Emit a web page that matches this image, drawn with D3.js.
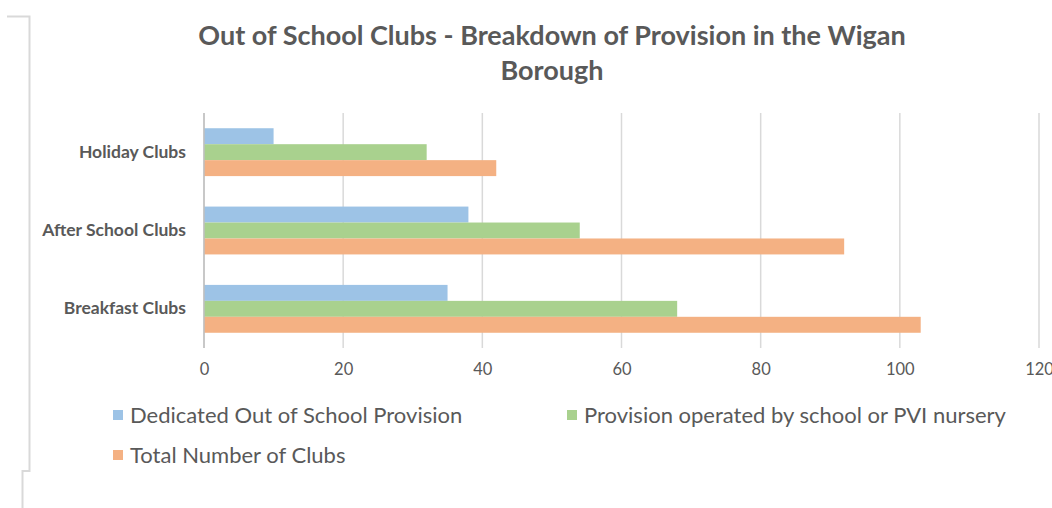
<!DOCTYPE html>
<html><head><meta charset="utf-8">
<script src="https://cdn.jsdelivr.net/npm/d3@7"></script>
<style>
html,body{margin:0;padding:0;background:#fff;}
svg{display:block;}
text{font-family:Lato,"Open Sans",sans-serif;fill:#595959;}
</style></head><body>
<script>
const categories = ["Holiday Clubs", "After School Clubs", "Breakfast Clubs"];
const seriesNames = ["Dedicated Out of School Provision", "Provision operated by school or PVI nursery", "Total Number of Clubs"];
const dedicated = [10, 38, 35];
const schoolOrPVI = [32, 54, 68];
const totalClubs = [42, 92, 103];
const tickValues = [0, 20, 40, 60, 80, 100, 120];
const colors = ["#9DC3E6", "#A9D18E", "#F4B183"];

const W = 1052, H = 508;
const svg = d3.select("body").append("svg").attr("width", W).attr("height", H);

// screenshot frame artifacts
svg.append("path").attr("d", "M7,16.5H29.5V471H22.5V508").attr("fill", "none").attr("stroke", "#d9d9d9").attr("stroke-width", 2);

const values = [dedicated, schoolOrPVI, totalClubs];
const x = d3.scaleLinear().domain([0, 120]).range([204, 1039]);
const y = d3.scaleBand().domain(categories).range([113, 348]).paddingInner(0.389).paddingOuter(0.1945);
const ys = d3.scaleBand().domain(d3.range(3)).range([0, y.bandwidth()]);

// title
const title = svg.append("text").attr("text-anchor", "middle").attr("font-weight", "bold").attr("font-size", 27);
title.append("tspan").attr("x", 552).attr("y", 45).text("Out of School Clubs - Breakdown of Provision in the Wigan");
title.append("tspan").attr("x", 552).attr("y", 80).text("Borough");

// gridlines
svg.append("g").selectAll("line").data(tickValues).join("line")
  .attr("x1", d => x(d)).attr("x2", d => x(d)).attr("y1", 113).attr("y2", 348)
  .attr("stroke", "#d9d9d9").attr("stroke-width", 1.5);

// bars
const rows = [];
categories.forEach((c, i) => values.forEach((s, j) => rows.push({c, j, v: s[i]})));
svg.append("g").selectAll("rect").data(rows).join("rect")
  .attr("x", x(0)).attr("y", d => y(d.c) + ys(d.j)).attr("height", ys.bandwidth())
  .attr("width", d => x(d.v) - x(0)).attr("fill", d => colors[d.j]);

// axis baseline
svg.append("line").attr("x1", x(0)).attr("x2", x(0)).attr("y1", 113).attr("y2", 348).attr("stroke", "#bfbfbf").attr("stroke-width", 1.5);

// x axis
const xAxis = d3.axisBottom(x).tickValues(tickValues).tickSize(0).tickPadding(0);
const gx = svg.append("g").attr("transform", "translate(0,363)").call(xAxis);
gx.select(".domain").remove();
gx.selectAll("text").attr("font-size", 16.5).attr("fill", "#595959").attr("font-family", "Lato");

// y axis labels
const yAxis = d3.axisLeft(y).tickSize(0).tickPadding(0);
const gy = svg.append("g").attr("transform", "translate(186,0)").call(yAxis);
gy.select(".domain").remove();
gy.selectAll("text").attr("font-size", 17.5).attr("font-weight", "bold").attr("fill", "#595959").attr("font-family", "Lato");

// legend
const legendPos = [[113, 415], [567, 415], [113, 455]];
const lg = svg.append("g").selectAll("g").data(seriesNames).join("g")
  .attr("transform", (d, i) => `translate(${legendPos[i][0]},${legendPos[i][1]})`);
lg.append("rect").attr("x", 0).attr("y", -5).attr("width", 10).attr("height", 10).attr("fill", (d, i) => colors[i]);
lg.append("text").attr("x", 17).attr("dy", "0.35em").attr("font-size", 22).text(d => d);
</script>
</body></html>
